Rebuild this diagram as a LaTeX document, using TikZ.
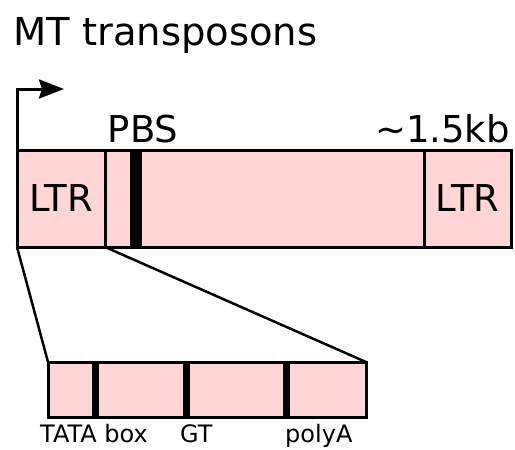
\documentclass[tikz,border=0pt]{standalone}
\usepackage{fontspec}
\setmainfont{DejaVu Sans}
\usetikzlibrary{positioning,arrows.meta}
\definecolor{ltrpink}{RGB}{255,213,213}
\tikzset{%
  every segment/.style={
    draw,
    line width=3pt,
    fill=ltrpink,
    inner sep=0pt,
    outer sep=0pt,
    font=\fontsize{37}{40}\selectfont
  },
  motif bar/.style={
    fill=black,
    draw=none,
    inner sep=0pt,
    outer sep=0pt
  },
  big label/.style={
    inner sep=0pt,
    font=\fontsize{37}{40}\selectfont
  },
  small label/.style={
    inner sep=0pt,
    anchor=base west,
    font=\fontsize{24}{26}\selectfont
  },
}

\begin{document}
\begin{tikzpicture}[x=1pt, y=-1pt, >=stealth]
    \useasboundingbox (0,0) rectangle (515,450);

    % title
    \node [big label, anchor=base west, font=\fontsize{38.5}{42}\selectfont] (title) at (13,45) {MT transposons};

    % element: LTR - body - LTR
    \node [every segment, minimum width=88pt, minimum height=97pt] (ltrL) at (61,198.5) {LTR};
    \node [every segment, minimum width=319pt, minimum height=97pt] (body) at (264.5,198.5) {};
    \node [every segment, minimum width=87pt, minimum height=97pt] (ltrR) at (467.5,198.5) {LTR};
    \node [motif bar, minimum width=12pt, minimum height=97pt] (pbsbar) at (136,198.5) {};

    \node [big label, anchor=base] (pbs) at (143,142) {PBS};
    \node [big label, anchor=base east] (size) at (510,142) {\textasciitilde1.5kb};

    % transcription start
    \coordinate (tss) at (64,89);
    \draw [line width=3pt, -{Stealth[length=25pt, width=19pt, inset=3pt]}] (ltrL.north west) |- (tss);

    % zoomed LTR
    \node [every segment, minimum width=318pt, minimum height=55pt] (promoter) at (207,389.5) {};
    \foreach \m/\x in {tata/95, gt/186.5, polya/286}
      \node [motif bar, minimum width=7pt, minimum height=55pt] (bar-\m) at (\x,389.5) {};

    \draw [line width=2.5pt] (ltrL.south west) -- (promoter.north west);
    \draw [line width=2.5pt] (ltrL.south east) -- (promoter.north east);

    \foreach \l/\x [count=\i] in {TATA box/40, GT/180, polyA/285}
      \node [small label] (motif-\i) at (\x,442) {\l};

\end{tikzpicture}
\end{document}
